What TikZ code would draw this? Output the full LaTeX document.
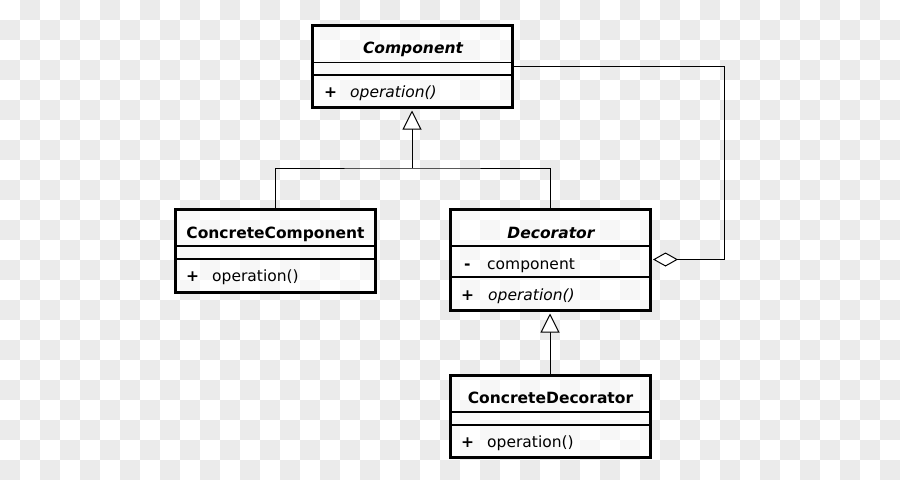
\documentclass[tikz,border=0pt]{standalone}
\usepackage{fontspec}
\setmainfont{DejaVu Sans}
\usetikzlibrary{arrows.meta}
\definecolor{checker}{HTML}{EBEBEB}
\tikzset{
  classbox/.style={draw, line width=3pt, fill=white, fill opacity=0.6, minimum width=200pt, inner sep=0pt},
  sepline/.style={line width=1.1pt},
  label/.style={inner sep=0pt, anchor=base west, font=\fontsize{15.5}{18}\selectfont},
  title/.style={inner sep=0pt, anchor=base, font=\fontsize{15.5}{18}\selectfont\bfseries},
  conn/.style={line width=1pt},
  inherit/.style={conn, -{Triangle[length=19pt, width=19pt, fill=white]}, shorten >=2pt},
  aggr/.style={conn, {Diamond[length=25pt, width=14pt, fill=white]}-, shorten <=1.5pt}
}
\begin{document}
\begin{tikzpicture}[x=1pt, y=-1pt]
\useasboundingbox (0,0) rectangle (900,480);
% background
\fill[white] (0,0) rectangle (900,480);
\foreach \i in {0,2,...,44}
  \foreach \j in {1,3,...,23}
    \fill[checker] (\i*20,\j*20) rectangle +(20,20);
\foreach \i in {1,3,...,43}
  \foreach \j in {0,2,...,22}
    \fill[checker] (\i*20,\j*20) rectangle +(20,20);

% classes
\node[classbox, minimum height=82pt] (comp) at (412,66) {};
\draw[sepline] (312,62.5) -- (512,62.5);
\draw[sepline] (312,75) -- (512,75);
\node[title, font=\fontsize{15.5}{18}\selectfont\bfseries\itshape] (comp-name) at (413,53.3) {Component};
\node[label, font=\fontsize{15.5}{18}\selectfont\bfseries] (comp-vis) at (324,97.3) {+};
\node[label, font=\fontsize{15.5}{18}\selectfont\itshape] (comp-op) at (350,97.3) {operation()};

\node[classbox, minimum height=83pt] (cc) at (275,250.5) {};
\draw[sepline] (175,246) -- (375,246);
\draw[sepline] (175,259) -- (375,259);
\node[title] (cc-name) at (275.5,238.3) {ConcreteComponent};
\node[label, font=\fontsize{15.5}{18}\selectfont\bfseries] (cc-vis) at (186,281.3) {+};
\node[label] (cc-op) at (212,281.3) {operation()};

\node[classbox, minimum height=101pt] (dec) at (550,259.5) {};
\draw[sepline] (450,246) -- (650,246);
\draw[sepline] (450,277) -- (650,277);
\node[title, font=\fontsize{15.5}{18}\selectfont\bfseries\itshape] (dec-name) at (551,238.3) {Decorator};
\node[label, font=\fontsize{15.5}{18}\selectfont\bfseries] (dec-vis1) at (464,269.3) {-};
\node[label] (dec-attr) at (487,269.3) {component};
\node[label, font=\fontsize{15.5}{18}\selectfont\bfseries] (dec-vis2) at (461,300.3) {+};
\node[label, font=\fontsize{15.5}{18}\selectfont\itshape] (dec-op) at (488,300.3) {operation()};

\node[classbox, minimum height=82pt] (cd) at (550,416) {};
\draw[sepline] (450,412) -- (650,412);
\draw[sepline] (450,425) -- (650,425);
\node[title] (cd-name) at (550.5,403.3) {ConcreteDecorator};
\node[label, font=\fontsize{15.5}{18}\selectfont\bfseries] (cd-vis) at (461,447.3) {+};
\node[label] (cd-op) at (487,447.3) {operation()};

% relations
\coordinate (join) at (412,168);
\coordinate (bend) at (724,259.5);
\draw[conn] (cc.north) |- (join) -| (dec.north);
\draw[inherit] (join) -- (comp.south);
\draw[inherit] (cd.north) -- (dec.south);
\draw[aggr] (dec.east) -- (bend) |- (comp.east);
\end{tikzpicture}
\end{document}
